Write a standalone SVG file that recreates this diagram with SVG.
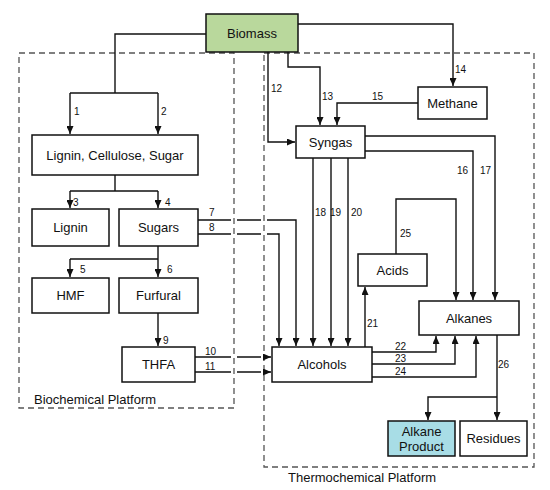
<svg xmlns="http://www.w3.org/2000/svg" width="550" height="490" viewBox="0 0 550 490">
<style>
.box{fill:#fff;stroke:#111;stroke-width:1.5}
.t{font-family:"Liberation Sans",Arial,sans-serif;font-size:13px;fill:#111;text-anchor:middle}
.pl{font-family:"Liberation Sans",Arial,sans-serif;font-size:13px;fill:#111}
.n{font-family:"Liberation Sans",Arial,sans-serif;font-size:10px;fill:#111}
.c{fill:none;stroke:#111;stroke-width:1.4}
.dash{fill:none;stroke:#555;stroke-width:1.3;stroke-dasharray:6 4}
</style>
<defs>
<marker id="a" markerWidth="8" markerHeight="7" refX="8" refY="3.5" orient="auto" markerUnits="userSpaceOnUse">
<path d="M0,0 L8,3.5 L0,7 z" fill="#111"/>
</marker>
</defs>
<g id="platforms">
<rect class="dash" x="19" y="53" width="215" height="355"/>
<rect class="dash" x="264" y="53" width="270" height="414"/>
<text class="pl" x="34" y="403.5">Biochemical Platform</text>
<text class="pl" x="288" y="481.5">Thermochemical Platform</text>
</g>
<g id="connectors">
<path class="c" d="M206,34 H115 V93"/>
<path class="c" d="M70,93 H158"/>
<path class="c" d="M70,93 V134" marker-end="url(#a)"/>
<path class="c" d="M158,93 V134" marker-end="url(#a)"/>
<path class="c" d="M115,175 V191 M70,191 H158"/>
<path class="c" d="M70,191 V208" marker-end="url(#a)"/>
<path class="c" d="M158,191 V208" marker-end="url(#a)"/>
<path class="c" d="M158,246 V259 M70,259 H158"/>
<path class="c" d="M70,259 V277" marker-end="url(#a)"/>
<path class="c" d="M158,259 V277" marker-end="url(#a)"/>
<path class="c" d="M158,313 V346" marker-end="url(#a)"/>
<path class="c" d="M198,220 H231 M237,220 H261 M267,220 H296 V346" marker-end="url(#a)"/>
<path class="c" d="M198,234 H231 M237,234 H261 M267,234 H279 V346" marker-end="url(#a)"/>
<path class="c" d="M195,357 H231 M237,357 H261 M266,357 H271" marker-end="url(#a)"/>
<path class="c" d="M195,372 H231 M237,372 H261 M266,372 H271" marker-end="url(#a)"/>
<path class="c" d="M268,52 V142 H295" marker-end="url(#a)"/>
<path class="c" d="M288,52 V67 H320 V125" marker-end="url(#a)"/>
<path class="c" d="M298,24 H453 V86" marker-end="url(#a)"/>
<path class="c" d="M418,103 H337 V125" marker-end="url(#a)"/>
<path class="c" d="M365,136 H495 V300" marker-end="url(#a)"/>
<path class="c" d="M365,151 H473 V300" marker-end="url(#a)"/>
<path class="c" d="M313,158 V346" marker-end="url(#a)"/>
<path class="c" d="M331,158 V346" marker-end="url(#a)"/>
<path class="c" d="M348,158 V346" marker-end="url(#a)"/>
<path class="c" d="M365,347 V287" marker-end="url(#a)"/>
<path class="c" d="M396,254 V199 H456 V300" marker-end="url(#a)"/>
<path class="c" d="M372,352 H436 V336" marker-end="url(#a)"/>
<path class="c" d="M372,364 H455 V336" marker-end="url(#a)"/>
<path class="c" d="M372,377 H476 V336" marker-end="url(#a)"/>
<path class="c" d="M497,335 V420" marker-end="url(#a)"/>
<path class="c" d="M497,397 H428 V420" marker-end="url(#a)"/>
<text class="n" x="74" y="115">1</text>
<text class="n" x="161" y="115">2</text>
<text class="n" x="73" y="206">3</text>
<text class="n" x="165" y="206">4</text>
<text class="n" x="80" y="273">5</text>
<text class="n" x="167" y="273">6</text>
<text class="n" x="209" y="216">7</text>
<text class="n" x="209" y="231">8</text>
<text class="n" x="163" y="344">9</text>
<text class="n" x="205" y="355">10</text>
<text class="n" x="205" y="370">11</text>
<text class="n" x="271" y="92">12</text>
<text class="n" x="322" y="100">13</text>
<text class="n" x="455" y="73">14</text>
<text class="n" x="372" y="100">15</text>
<text class="n" x="457" y="174">16</text>
<text class="n" x="480" y="174">17</text>
<text class="n" x="315" y="216">18</text>
<text class="n" x="330" y="216">19</text>
<text class="n" x="351" y="216">20</text>
<text class="n" x="367" y="327">21</text>
<text class="n" x="395" y="350">22</text>
<text class="n" x="395" y="362">23</text>
<text class="n" x="395" y="375">24</text>
<text class="n" x="400" y="237">25</text>
<text class="n" x="498" y="368">26</text>
</g>
<g id="biomass"><rect class="box" x="206" y="14" width="92" height="38" style="fill:#b9d89c"/><text class="t" x="252" y="37.5">Biomass</text></g>
<g id="lcs"><rect class="box" x="32" y="135" width="166" height="40"/><text class="t" x="115" y="159.5">Lignin, Cellulose, Sugar</text></g>
<g id="lignin"><rect class="box" x="32" y="209" width="77" height="37"/><text class="t" x="70.5" y="232">Lignin</text></g>
<g id="sugars"><rect class="box" x="119" y="209" width="79" height="37"/><text class="t" x="158.5" y="232">Sugars</text></g>
<g id="hmf"><rect class="box" x="32" y="278" width="77" height="35"/><text class="t" x="70.5" y="300">HMF</text></g>
<g id="furfural"><rect class="box" x="119" y="278" width="79" height="35"/><text class="t" x="158.5" y="300">Furfural</text></g>
<g id="thfa"><rect class="box" x="122" y="347" width="73" height="35"/><text class="t" x="158.5" y="369">THFA</text></g>
<g id="syngas"><rect class="box" x="296" y="126" width="69" height="32"/><text class="t" x="330.5" y="146.5">Syngas</text></g>
<g id="methane"><rect class="box" x="418" y="87" width="69" height="32"/><text class="t" x="452.5" y="107.5">Methane</text></g>
<g id="acids"><rect class="box" x="358" y="254" width="69" height="32"/><text class="t" x="392.5" y="274.5">Acids</text></g>
<g id="alkanes"><rect class="box" x="419" y="301" width="100" height="34"/><text class="t" x="469" y="322.5">Alkanes</text></g>
<g id="alcohols"><rect class="box" x="272" y="347" width="100" height="35"/><text class="t" x="322" y="369">Alcohols</text></g>
<g id="alkaneproduct"><rect class="box" x="388" y="421" width="67" height="35" style="fill:#a8dde6"/><text class="t" x="421.5" y="435.5">Alkane</text><text class="t" x="421.5" y="450.5">Product</text></g>
<g id="residues"><rect class="box" x="460" y="421" width="67" height="35"/><text class="t" x="493.5" y="443">Residues</text></g>
</svg>
